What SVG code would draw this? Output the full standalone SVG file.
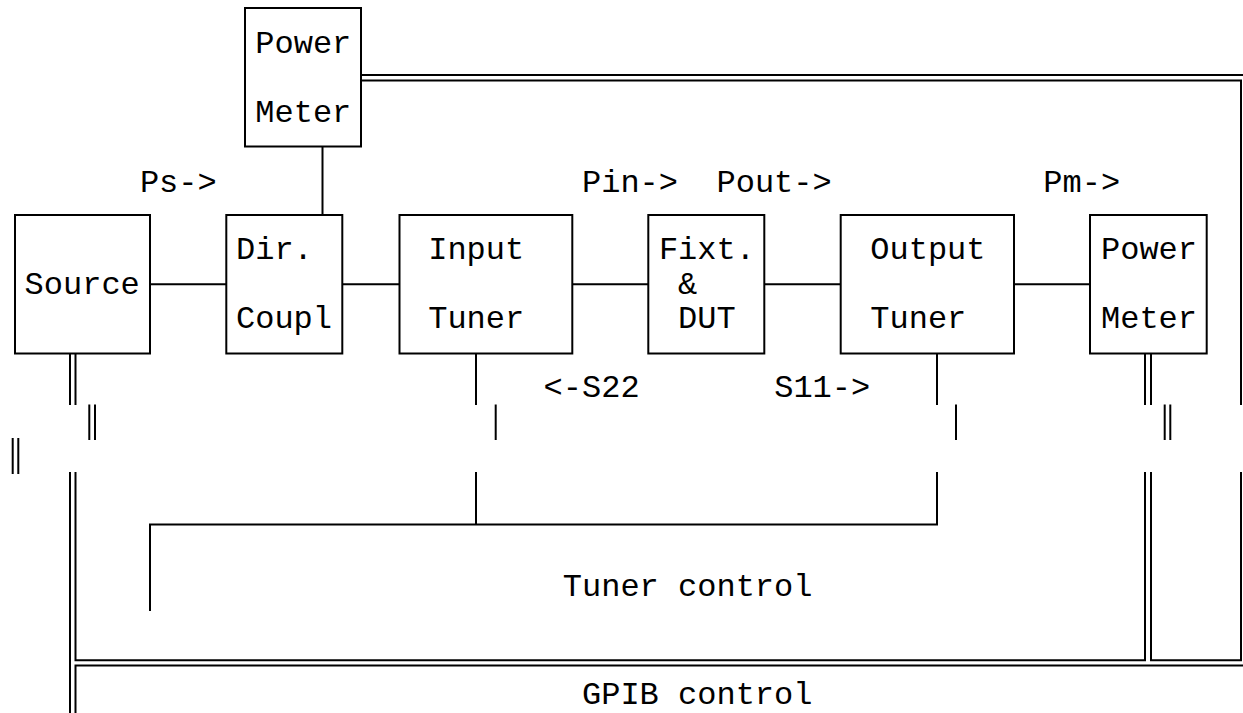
<svg xmlns="http://www.w3.org/2000/svg" width="1243" height="713" viewBox="0 0 1243 713">
<style>
.box{fill:none;stroke:#000;stroke-width:2}
.ln{fill:none;stroke:#000;stroke-width:2;stroke-linejoin:miter}
text{font-family:"Liberation Mono","Courier New",monospace;font-size:32px;fill:#000}
</style>
<rect width="1243" height="713" fill="#fff"/>
<g id="connectors" class="ln">
<path d="M150,284.3H226.3M342.3,284.3H399.5M572.3,284.3H648.3M764.3,284.3H840.7M1014,284.3H1090"/>
<path d="M322.5,146.5V215"/>
<path d="M361,75H1243M361,80.5H1241V405"/>
<path d="M70,353.5V405M75.5,353.5V405M476,353.5V405M937,353.5V405M1145,353.5V405M1151,353.5V405"/>
<path d="M89.3,404.5V440M95,404.5V440M495.7,404.5V440M956,404.5V440M1164.7,404.5V440M1170.3,404.5V440"/>
<path d="M12.7,438V474M18.3,438V474"/>
<path d="M70,472V713M75.5,472V660.2H1145V472M75.5,713V665.5H1243M1151,472V660.2H1241V472"/>
<path d="M476,472V524.5M150,611V524.5H937V472"/>
</g>
<g id="pm_top"><rect class="box" x="245" y="8" width="116" height="138.5"/><text x="255.3" y="53">Power</text><text x="255.3" y="121.7">Meter</text></g>
<g id="source"><rect class="box" x="15" y="215" width="135" height="138.5"/><text x="24.6" y="293.5">Source</text></g>
<g id="dircoupl"><rect class="box" x="226.3" y="215" width="116" height="138.5"/><text x="236" y="259">Dir.</text><text x="236" y="328.3">Coupl</text></g>
<g id="input_tuner"><rect class="box" x="399.5" y="215" width="172.8" height="138.5"/><text x="428.2" y="259">Input</text><text x="428.2" y="328.3">Tuner</text></g>
<g id="fixture"><rect class="box" x="648.3" y="215" width="116" height="138.5"/><text x="658.9" y="259">Fixt.</text><text x="678.1" y="293.5">&amp;</text><text x="678.1" y="328.3">DUT</text></g>
<g id="output_tuner"><rect class="box" x="840.7" y="215" width="173.3" height="138.5"/><text x="870.3" y="259">Output</text><text x="870.3" y="328.3">Tuner</text></g>
<g id="pm_right"><rect class="box" x="1090" y="215" width="116.7" height="138.5"/><text x="1101" y="259">Power</text><text x="1101" y="328.3">Meter</text></g>
<g id="labels">
<text x="139.9" y="192">Ps-&gt;</text>
<text x="582" y="192">Pin-&gt;</text>
<text x="716.5" y="192">Pout-&gt;</text>
<text x="1043.3" y="192">Pm-&gt;</text>
<text x="543.6" y="397">&lt;-S22</text>
<text x="774.2" y="397">S11-&gt;</text>
<text x="562.8" y="596">Tuner control</text>
<text x="582" y="704">GPIB control</text>
</g>
</svg>
